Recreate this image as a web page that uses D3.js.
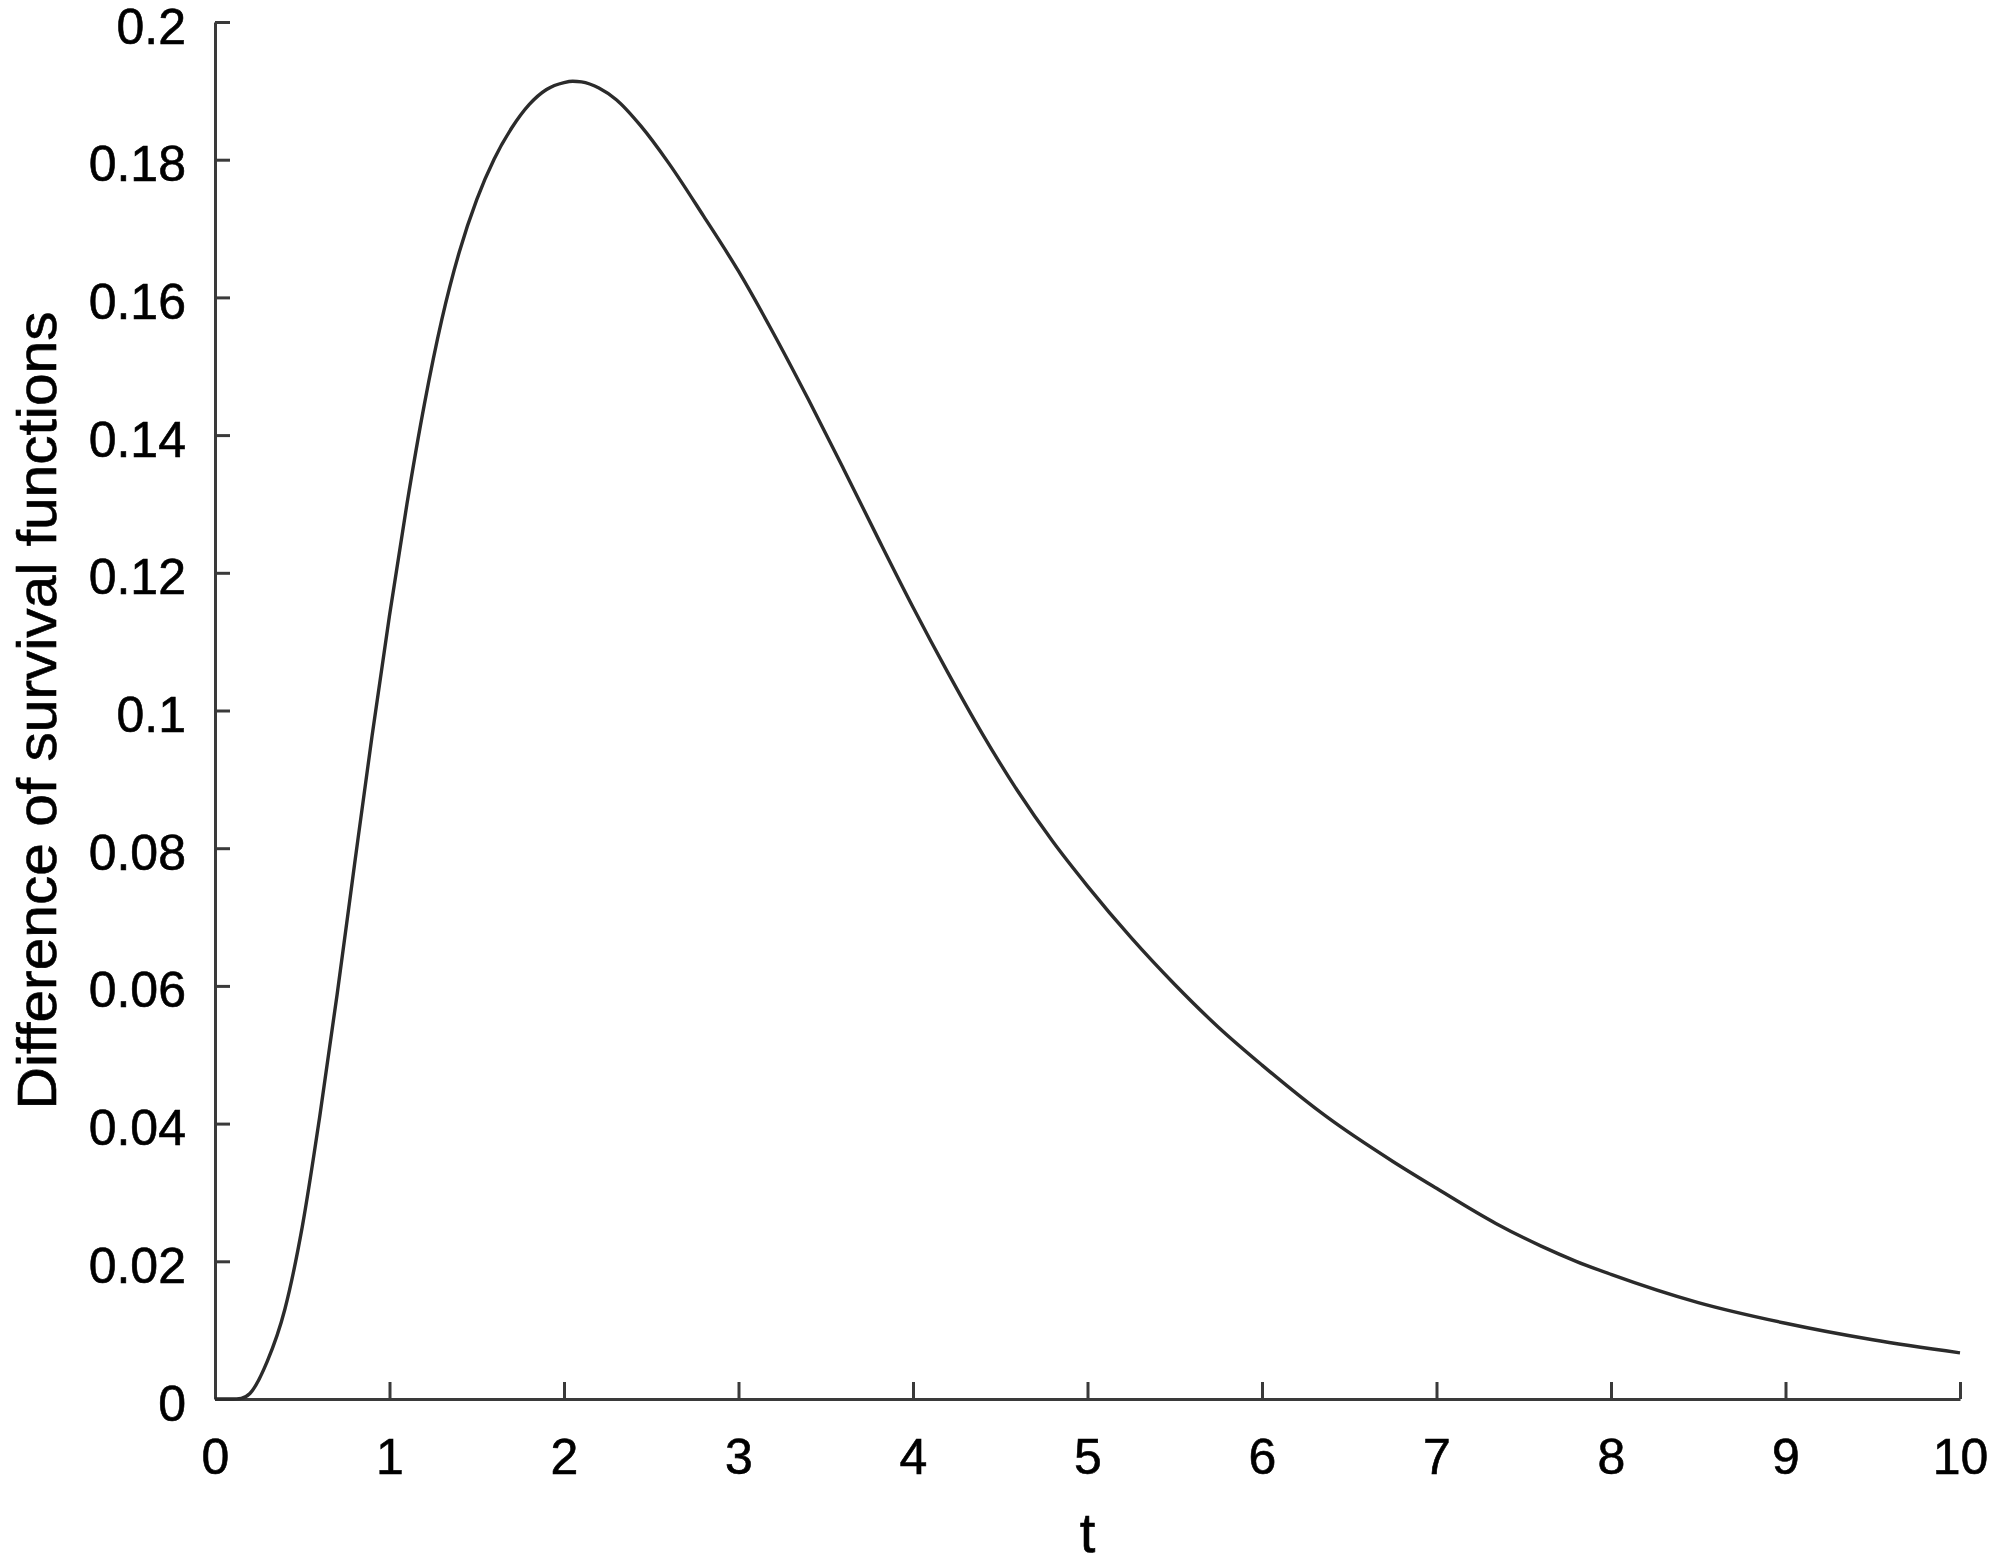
<!DOCTYPE html>
<html>
<head>
<meta charset="utf-8">
<script src="https://cdn.jsdelivr.net/npm/d3@7"></script>
<style>
  html, body { margin: 0; padding: 0; background: #ffffff; }
  svg { display: block; }
</style>
</head>
<body>
<svg id="chart" width="2000" height="1564"></svg>
<script>
// ---- data ----
const tValues = [0, 0.1, 0.15, 0.2, 0.3, 0.4, 0.5, 0.6, 0.7, 0.8, 0.9, 1.0, 1.1, 1.2, 1.3, 1.4,
  1.5, 1.6, 1.7, 1.8, 1.9, 2.0, 2.05, 2.1, 2.2, 2.3, 2.44, 2.6, 2.8, 3.0, 3.2, 3.4, 3.6, 3.8,
  4.0, 4.2, 4.4, 4.6, 4.8, 5.0, 5.25, 5.5, 5.75, 6.0, 6.37, 6.75, 7.0, 7.34, 7.6, 7.8, 8.0,
  8.5, 9.0, 9.5, 10];
const diffValues = [0, 0, 0.0001, 0.0008, 0.0055, 0.0130, 0.0250, 0.0410, 0.0588, 0.0777, 0.0963,
  0.1138, 0.1300, 0.1445, 0.1568, 0.1666, 0.1742, 0.1801, 0.1846, 0.1880, 0.1902, 0.1912, 0.1914,
  0.1913, 0.1904, 0.1887, 0.1849, 0.1795, 0.1718, 0.1638, 0.1548, 0.1452, 0.1352, 0.1250,
  0.1150, 0.1055, 0.0965, 0.0883, 0.0810, 0.0745, 0.0670, 0.0602, 0.0540, 0.0485, 0.0410,
  0.0345, 0.0306, 0.0255, 0.0222, 0.0200, 0.0181, 0.0140, 0.0110, 0.0086, 0.0067];
const xTickValues = [0, 1, 2, 3, 4, 5, 6, 7, 8, 9, 10];
const xTickLabels = ["0", "1", "2", "3", "4", "5", "6", "7", "8", "9", "10"];
const yTickValues = [0, 0.02, 0.04, 0.06, 0.08, 0.1, 0.12, 0.14, 0.16, 0.18, 0.2];
const yTickLabels = ["0", "0.02", "0.04", "0.06", "0.08", "0.1", "0.12", "0.14", "0.16", "0.18", "0.2"];
const xTitle = "t";
const yTitle = "Difference of survival functions";

// ---- layout ----
const plot = { left: 215, right: 1960, top: 22, bottom: 1399 };
const svg = d3.select("#chart");
const font = "'Liberation Sans', Arial, Helvetica, sans-serif";
const axisColor = "#3a3a3a";

const x = d3.scaleLinear().domain([0, 10]).range([plot.left, plot.right]);
const y = d3.scaleLinear().domain([0, 0.2]).range([plot.bottom, plot.top]);

// x axis
const xAxis = d3.axisBottom(x)
  .tickValues(xTickValues)
  .tickFormat((d, i) => xTickLabels[i])
  .tickSizeInner(-17)
  .tickSizeOuter(0)
  .tickPadding(39);
const gx = svg.append("g").attr("transform", `translate(0,${plot.bottom})`).call(xAxis);

// y axis
const yAxis = d3.axisLeft(y)
  .tickValues(yTickValues)
  .tickFormat((d, i) => yTickLabels[i])
  .tickSizeInner(-15)
  .tickSizeOuter(0)
  .tickPadding(29);
const gy = svg.append("g").attr("transform", `translate(${plot.left},0)`).call(yAxis);

[gx, gy].forEach(g => {
  g.select(".domain").attr("stroke", axisColor).attr("stroke-width", 3);
  g.selectAll(".tick line").attr("stroke", axisColor).attr("stroke-width", 3);
  g.selectAll(".tick text")
    .attr("fill", "#000")
    .attr("stroke", "#000")
    .attr("stroke-width", 0.6)
    .style("font-family", font)
    .style("font-size", "50px");
});
gy.selectAll(".tick text").attr("dy", "0.42em");

// curve
const pts = tValues.map((t, i) => [t, diffValues[i]]);
const line = d3.line()
  .x(d => x(d[0]))
  .y(d => y(d[1]))
  .curve(d3.curveMonotoneX);
svg.append("path")
  .datum(pts)
  .attr("d", line)
  .attr("fill", "none")
  .attr("stroke", "#2b2b2b")
  .attr("stroke-width", 3.4)
  .attr("stroke-linejoin", "round");

// axis titles
svg.append("text")
  .attr("x", (plot.left + plot.right) / 2)
  .attr("y", 1552)
  .attr("text-anchor", "middle")
  .attr("stroke", "#000")
  .attr("stroke-width", 0.6)
  .style("font-family", font)
  .style("font-size", "56px")
  .attr("fill", "#000")
  .text(xTitle);

svg.append("text")
  .attr("transform", `translate(56,${(plot.top + plot.bottom) / 2}) rotate(-90)`)
  .attr("text-anchor", "middle")
  .attr("textLength", 798)
  .attr("lengthAdjust", "spacingAndGlyphs")
  .attr("stroke", "#000")
  .attr("stroke-width", 0.6)
  .style("font-family", font)
  .style("font-size", "56px")
  .attr("fill", "#000")
  .text(yTitle);
</script>
</body>
</html>
